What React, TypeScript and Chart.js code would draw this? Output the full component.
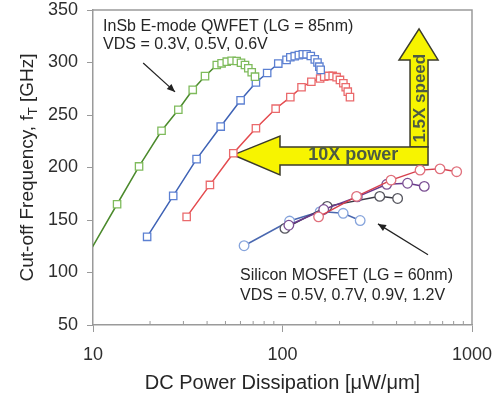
import { useEffect, useRef } from 'react';
import { Chart, registerables } from 'chart.js';

Chart.register(...registerables);

// ---------- data ----------
const yTickValues = [50, 100, 150, 200, 250, 300, 350];
const xTickLabels = [10, 100, 1000];

// InSb E-mode QWFET, VDS = 0.3 V (first point lies just left of the axis)
const insb03: [number, number][] = [
  [9.2, 114], [13.4, 165], [17.5, 201], [23.0, 235], [28.2, 255], [33.6, 274], [39.0, 287],
  [45, 297.6], [47.7, 299.2], [50.8, 300.8], [53.9, 301.7], [57.3, 301.4], [60.4, 299.8],
  [63.4, 297.6], [66.0, 294.5], [68.8, 290.7], [71.6, 286.5],
];
// VDS = 0.5 V
const insb05: [number, number][] = [
  [19.3, 134], [26.5, 173], [35.2, 208], [47.2, 239], [60.1, 264], [72.4, 281], [83, 290],
  [95, 299], [105, 302.5], [110, 305], [116, 306], [122, 307], [128, 307.8], [134, 307.8],
  [141, 306.2], [148, 303], [153, 300], [156.5, 296], [159, 293],
];
// VDS = 0.6 V
const insb06: [number, number][] = [
  [31.2, 153], [41.4, 183.4], [55, 213.6], [72.4, 237.4], [92, 256], [110, 267], [126, 276.4],
  [142, 281.7], [158, 284.8], [166, 286.5], [175, 287.2], [184, 287.2], [193, 286], [201, 283.4],
  [209.5, 280.2], [215.6, 276.4], [221, 272.2], [227, 267],
];
// Silicon MOSFET
const si05: [number, number][] = [[62.7, 125.5], [109, 149], [158, 158], [209, 156.4], [257, 149.5]];
const si07: [number, number][] = [[103, 142], [172, 163], [326, 172.5], [405, 170.5]];
const si09: [number, number][] = [[108, 145], [165, 160], [248, 172], [355, 184], [457, 185], [560, 182]];
const si12: [number, number][] = [[155, 153], [246, 172.5], [374, 188], [532, 197.5], [678, 198.7], [830, 196]];

// annotation geometry in data units
const powerArrow = { tipX: 55, tipY: 212, headX: 97, headTop: 230, headBottom: 193, shaftTop: 219.6, shaftBottom: 202.4, endX: 586, textX: 236, textY: 212 };
const speedArrow = { left: 471, right: 586, headLeft: 412, headRight: 662, tipY: 332, headBase: 302.4, bottom: 219.6, textY: 266 };
const insbText = { x: 11.3, y1: 333.8, y2: 316.7 };
const siText = { x: 59.7, y1: 96.8, y2: 77.7 };
const insbPointer = { x1: 18.4, y1: 299.5, x2: 27.1, y2: 272 };
const siPointer = { x1: 586, y1: 117, x2: 319, y2: 146.3 };

const FONT = '"Liberation Sans", Arial, sans-serif';

function arrowLine(ctx: CanvasRenderingContext2D, x1: number, y1: number, x2: number, y2: number) {
  ctx.beginPath();
  ctx.moveTo(x1, y1);
  ctx.lineTo(x2, y2);
  ctx.stroke();
  const a = Math.atan2(y2 - y1, x2 - x1);
  const L = 8, W = 3.5;
  ctx.beginPath();
  ctx.moveTo(x2, y2);
  ctx.lineTo(x2 - L * Math.cos(a) + W * Math.sin(a), y2 - L * Math.sin(a) - W * Math.cos(a));
  ctx.lineTo(x2 - L * Math.cos(a) - W * Math.sin(a), y2 - L * Math.sin(a) + W * Math.cos(a));
  ctx.closePath();
  ctx.fill();
}

const annotPlugin = {
  id: 'annot',
  beforeDatasetsDraw(chart: any) {
    const { ctx, scales } = chart;
    const X = (v: number) => scales.x.getPixelForValue(v);
    const Y = (v: number) => scales.y.getPixelForValue(v);
    ctx.save();
    ctx.fillStyle = '#f7f400';
    ctx.strokeStyle = '#3b3b2b';
    ctx.lineWidth = 1.5;
    ctx.lineJoin = 'miter';
    // vertical arrow (1.5X speed)
    const sl = X(speedArrow.left), sr = X(speedArrow.right);
    ctx.beginPath();
    ctx.moveTo(sl, Y(speedArrow.bottom));
    ctx.lineTo(sl, Y(speedArrow.headBase));
    ctx.lineTo(X(speedArrow.headLeft), Y(speedArrow.headBase));
    ctx.lineTo((sl + sr) / 2, Y(speedArrow.tipY));
    ctx.lineTo(X(speedArrow.headRight), Y(speedArrow.headBase));
    ctx.lineTo(sr, Y(speedArrow.headBase));
    ctx.lineTo(sr, Y(speedArrow.bottom));
    ctx.closePath();
    ctx.fill();
    ctx.stroke();
    // horizontal arrow (10X power)
    ctx.beginPath();
    ctx.moveTo(X(powerArrow.endX), Y(powerArrow.shaftTop));
    ctx.lineTo(X(powerArrow.headX), Y(powerArrow.shaftTop));
    ctx.lineTo(X(powerArrow.headX), Y(powerArrow.headTop));
    ctx.lineTo(X(powerArrow.tipX), Y(powerArrow.tipY));
    ctx.lineTo(X(powerArrow.headX), Y(powerArrow.headBottom));
    ctx.lineTo(X(powerArrow.headX), Y(powerArrow.shaftBottom));
    ctx.lineTo(X(powerArrow.endX), Y(powerArrow.shaftBottom));
    ctx.closePath();
    ctx.fill();
    ctx.stroke();
    // texts
    ctx.fillStyle = '#4c5a44';
    ctx.font = `bold 18px ${FONT}`;
    ctx.textAlign = 'center';
    ctx.textBaseline = 'middle';
    ctx.fillText('10X power', X(powerArrow.textX), Y(powerArrow.textY));
    ctx.save();
    ctx.translate((sl + sr) / 2 + 1, Y(speedArrow.textY));
    ctx.rotate(-Math.PI / 2);
    ctx.font = `bold 17px ${FONT}`;
    ctx.fillText('1.5X speed', 0, 0);
    ctx.restore();
    ctx.restore();
  },
  afterDatasetsDraw(chart: any) {
    const { ctx, scales, chartArea } = chart;
    const X = (v: number) => scales.x.getPixelForValue(v);
    const Y = (v: number) => scales.y.getPixelForValue(v);
    ctx.save();
    // plot frame (top/right)
    ctx.strokeStyle = '#9a9a9a';
    ctx.lineWidth = 1.5;
    ctx.beginPath();
    ctx.moveTo(chartArea.left, chartArea.top);
    ctx.lineTo(chartArea.right, chartArea.top);
    ctx.lineTo(chartArea.right, chartArea.bottom);
    ctx.stroke();
    // minor x ticks (inward)
    ctx.lineWidth = 1;
    ctx.strokeStyle = '#9a9a9a';
    for (const t of scales.x.ticks) {
      const lg = Math.log10(t.value);
      if (Math.abs(lg - Math.round(lg)) < 1e-9) continue;
      const px = X(t.value);
      ctx.beginPath();
      ctx.moveTo(px, chartArea.bottom);
      ctx.lineTo(px, chartArea.bottom - 4);
      ctx.stroke();
    }
    // pointer arrows
    ctx.strokeStyle = '#222';
    ctx.fillStyle = '#222';
    ctx.lineWidth = 1.2;
    arrowLine(ctx, X(insbPointer.x1), Y(insbPointer.y1), X(insbPointer.x2), Y(insbPointer.y2));
    arrowLine(ctx, X(siPointer.x1), Y(siPointer.y1), X(siPointer.x2), Y(siPointer.y2));
    // annotation texts
    ctx.fillStyle = '#262626';
    ctx.font = `16px ${FONT}`;
    ctx.textAlign = 'left';
    ctx.textBaseline = 'middle';
    ctx.fillText('InSb E-mode QWFET (LG = 85nm)', X(insbText.x), Y(insbText.y1));
    ctx.fillText('VDS = 0.3V, 0.5V, 0.6V', X(insbText.x), Y(insbText.y2));
    ctx.fillText('Silicon MOSFET (LG = 60nm)', X(siText.x), Y(siText.y1));
    ctx.fillText('VDS = 0.5V, 0.7V, 0.9V, 1.2V', X(siText.x), Y(siText.y2));
    ctx.restore();
  },
  afterDraw(chart: any) {
    const { ctx, chartArea, scales } = chart;
    ctx.save();
    const cx = scales.y.left + 28;
    const cy = (chartArea.top + chartArea.bottom) / 2;
    ctx.translate(cx, cy);
    ctx.rotate(-Math.PI / 2);
    ctx.fillStyle = '#262626';
    ctx.textBaseline = 'middle';
    ctx.textAlign = 'left';
    const main = `19px ${FONT}`;
    const sub = `13px ${FONT}`;
    const p1 = 'Cut-off Frequency, f';
    const p2 = 'T';
    const p3 = ' [GHz]';
    ctx.font = main;
    const w1 = ctx.measureText(p1).width;
    const w3 = ctx.measureText(p3).width;
    ctx.font = sub;
    const w2 = ctx.measureText(p2).width;
    const total = w1 + w2 + w3;
    let x0 = -total / 2;
    ctx.font = main;
    ctx.fillText(p1, x0, 0);
    x0 += w1;
    ctx.font = sub;
    ctx.fillText(p2, x0, 5);
    x0 += w2;
    ctx.font = main;
    ctx.fillText(p3, x0, 0);
    ctx.restore();
  },
};

function ds(label: string, pts: [number, number][], line: string, marker: string, style: string, extra: any = {}) {
  return {
    label,
    data: pts.map(([x, y]) => ({ x, y })),
    showLine: true,
    borderColor: line,
    borderWidth: 1.5,
    pointStyle: style,
    pointRadius: style === 'rect' ? 5.2 : 4.8,
    pointBorderColor: marker,
    pointBackgroundColor: '#ffffff',
    pointBorderWidth: 1.3,
    tension: 0,
    ...extra,
  };
}

export default function App() {
  const ref = useRef<HTMLCanvasElement>(null);
  useEffect(() => {
    const chart = new Chart(ref.current!, {
      type: 'scatter',
      data: {
        datasets: [
          ds('InSb 0.3V', insb03, '#4b8a2c', '#7fbb5c', 'rect', { clip: 0 }),
          ds('InSb 0.5V', insb05, '#3e62b5', '#5c80d2', 'rect'),
          ds('InSb 0.6V', insb06, '#e44a4e', '#ea6a6c', 'rect'),
          ds('Si 1.2V', si12, '#d6404e', '#e0707c', 'circle'),
          ds('Si 0.9V', si09, '#6a3a8c', '#7a4e92', 'circle'),
          ds('Si 0.7V', si07, '#3a3a44', '#55555e', 'circle'),
          ds('Si 0.5V', si05, '#4a68b0', '#86a4dc', 'circle'),
        ] as any,
      },
      options: {
        animation: false,
        responsive: false,
        devicePixelRatio: 1,
        layout: { padding: { top: 10, right: 22, left: 0, bottom: 0 } },
        plugins: { legend: { display: false }, tooltip: { enabled: false } },
        scales: {
          x: {
            type: 'logarithmic',
            min: 10,
            max: 1000,
            border: { color: '#9a9a9a', width: 1.5 },
            grid: {
              drawOnChartArea: false,
              drawTicks: true,
              tickLength: 7,
              color: (c: any) => {
                const v = c.tick ? c.tick.value : 0;
                const lg = Math.log10(v);
                return Math.abs(lg - Math.round(lg)) < 1e-9 ? '#9a9a9a' : 'rgba(0,0,0,0)';
              },
            },
            ticks: {
              autoSkip: false,
              maxRotation: 0,
              padding: 12,
              color: '#2e2e2e',
              font: { family: FONT, size: 18 },
              callback: (v: any) => (xTickLabels.includes(Number(v)) ? String(v) : ''),
            },
            title: {
              display: true,
              text: 'DC Power Dissipation [μW/μm]',
              color: '#262626',
              font: { family: FONT, size: 20 },
              padding: { top: 4, bottom: 3 },
            },
            afterFit: (s: any) => {
              s.height = 73;
              s.paddingLeft = 0;
              s.paddingRight = 0;
            },
          },
          y: {
            type: 'linear',
            min: 50,
            max: 350,
            border: { color: '#9a9a9a', width: 1.5 },
            grid: { drawOnChartArea: false, drawTicks: true, tickLength: 6, color: '#9a9a9a' },
            afterBuildTicks: (s: any) => {
              s.ticks = yTickValues.map((v) => ({ value: v }));
            },
            ticks: {
              padding: 9,
              color: '#2e2e2e',
              font: { family: FONT, size: 18 },
            },
            afterFit: (s: any) => {
              s.width = 93;
              s.paddingTop = 0;
              s.paddingBottom = 0;
            },
          },
        },
      },
      plugins: [annotPlugin],
    });
    return () => chart.destroy();
  }, []);
  return (
    <div style={{ position: 'fixed', left: 0, top: 0, width: 494, height: 398, background: '#ffffff' }}>
      <canvas ref={ref} width={494} height={398} style={{ display: 'block', width: 494, height: 398 }} />
    </div>
  );
}
